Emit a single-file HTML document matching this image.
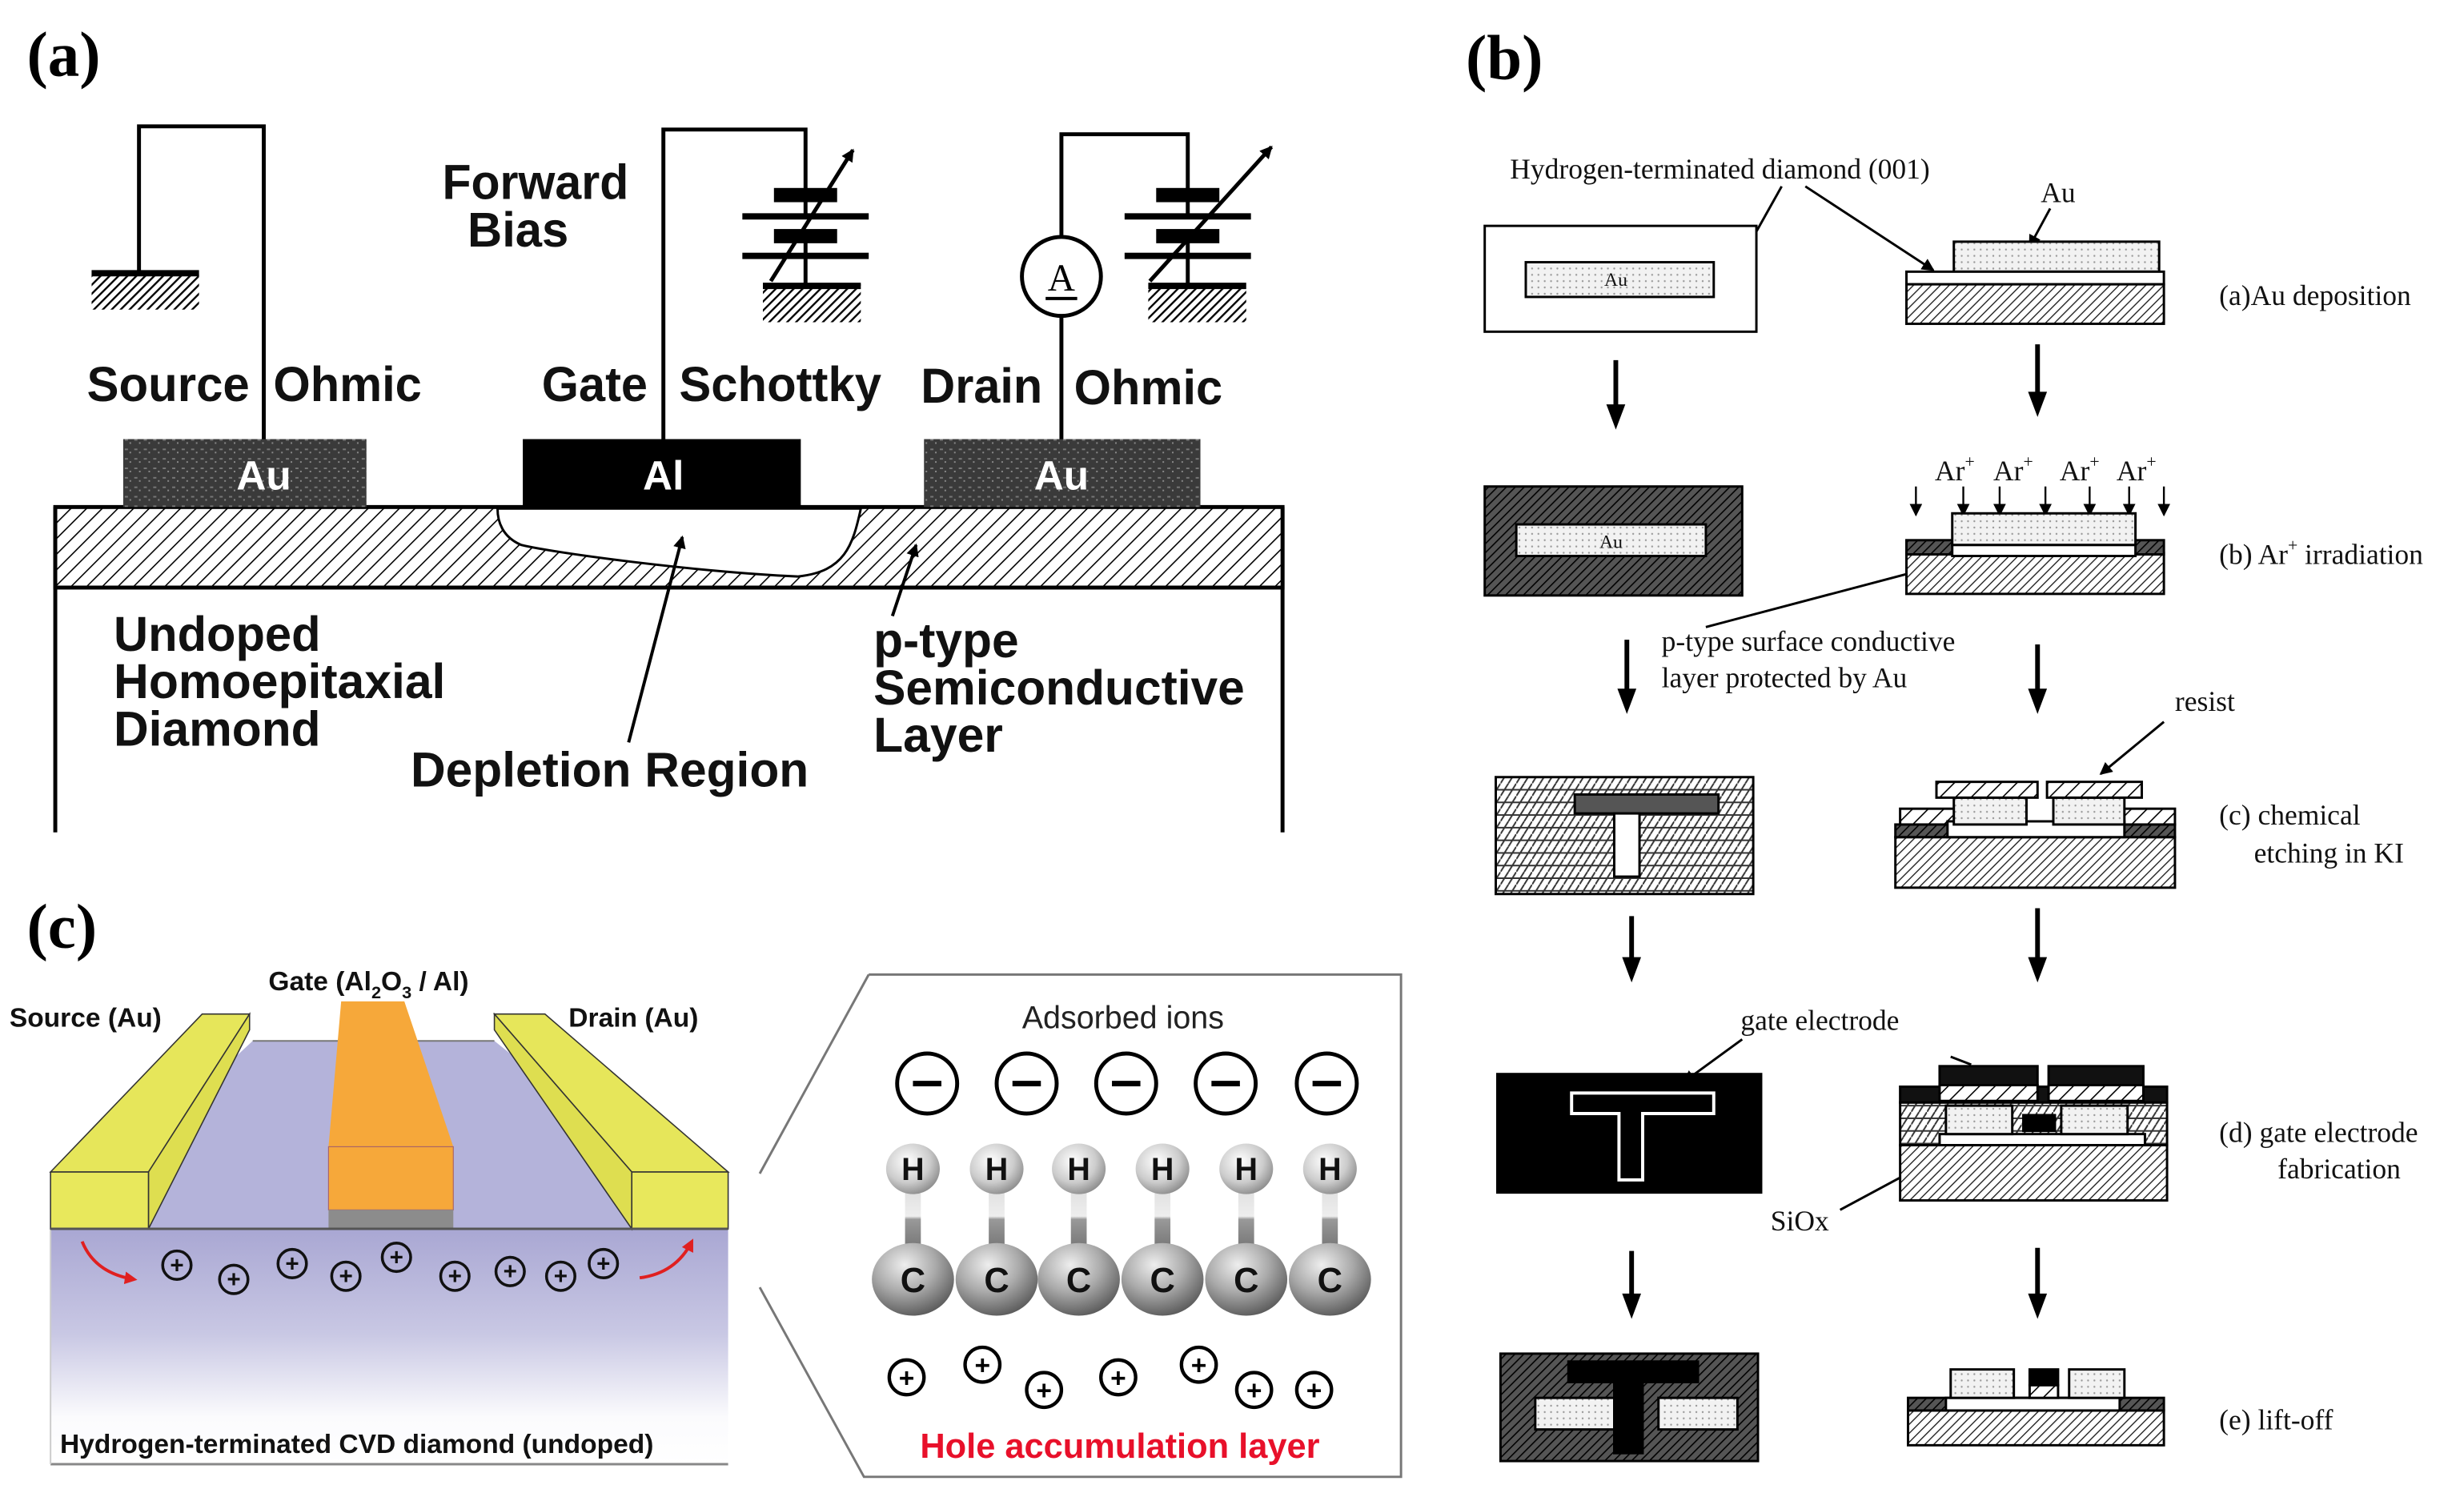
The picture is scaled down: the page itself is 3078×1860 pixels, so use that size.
<!DOCTYPE html>
<html><head><meta charset="utf-8"><style>
html,body{margin:0;padding:0;background:#fff;}
svg{display:block;}
.sa{font-family:"Liberation Sans",sans-serif;font-weight:bold;}
.se{font-family:"Liberation Serif",serif;}
</style></head><body>
<svg width="3078" height="1860" viewBox="0 0 1560 942.7" preserveAspectRatio="none" xmlns="http://www.w3.org/2000/svg">
<defs>
<pattern id="h" width="7" height="7" patternUnits="userSpaceOnUse" patternTransform="rotate(45)">
<rect width="7" height="7" fill="#fff"/><line x1="0" y1="0" x2="0" y2="7" stroke="#000" stroke-width="1.6"/></pattern>
<pattern id="hb" width="4" height="4" patternUnits="userSpaceOnUse" patternTransform="rotate(45)">
<rect width="4" height="4" fill="#fff"/><line x1="0" y1="0" x2="0" y2="4" stroke="#222" stroke-width="1.4"/></pattern>
<pattern id="hg2" width="4" height="4" patternUnits="userSpaceOnUse" patternTransform="rotate(45)">
<rect width="4" height="4" fill="#fff"/><line x1="0" y1="0" x2="0" y2="4" stroke="#000" stroke-width="2.4"/></pattern>
<pattern id="hd" width="4" height="4" patternUnits="userSpaceOnUse" patternTransform="rotate(45)">
<rect width="4" height="4" fill="#555"/><line x1="0" y1="0" x2="0" y2="4" stroke="#000" stroke-width="1.6"/></pattern>
<pattern id="dots" width="4" height="4" patternUnits="userSpaceOnUse">
<rect width="4" height="4" fill="#f2f2f2"/><circle cx="2" cy="2" r="0.6" fill="#999"/></pattern>
<pattern id="cross" width="10" height="8" patternUnits="userSpaceOnUse">
<rect width="10" height="8" fill="#fff"/><path d="M0,8 L5,0 M5,8 L10,0 M0,4 L10,4" stroke="#333" stroke-width="1"/></pattern>
<pattern id="tex" width="6" height="6" patternUnits="userSpaceOnUse">
<rect width="6" height="6" fill="#3a3a3a"/><rect x="1" y="2" width="2" height="1" fill="#777"/><rect x="4" y="4" width="1" height="1" fill="#888"/></pattern>
<linearGradient id="sub" x1="0" y1="0" x2="0" y2="1">
<stop offset="0" stop-color="#a9a7d3"/><stop offset="0.45" stop-color="#c9c8e4"/><stop offset="0.8" stop-color="#fbfbfd"/><stop offset="1" stop-color="#fff"/></linearGradient>
<radialGradient id="hgr" cx="0.4" cy="0.35" r="0.7"><stop offset="0" stop-color="#fff"/><stop offset="0.6" stop-color="#ccc"/><stop offset="1" stop-color="#888"/></radialGradient>
<radialGradient id="cg" cx="0.4" cy="0.3" r="0.75"><stop offset="0" stop-color="#eee"/><stop offset="0.5" stop-color="#aaa"/><stop offset="1" stop-color="#555"/></radialGradient>
<linearGradient id="bond" x1="0" y1="0" x2="0" y2="1"><stop offset="0" stop-color="#ddd"/><stop offset="0.5" stop-color="#eee"/><stop offset="0.55" stop-color="#999"/><stop offset="1" stop-color="#777"/></linearGradient>
<marker id="ar" markerWidth="8" markerHeight="8" refX="7" refY="4" orient="auto" markerUnits="userSpaceOnUse"><path d="M0,0 L8,4 L0,8 Z" fill="#000"/></marker>
<marker id="arr" markerWidth="8" markerHeight="8" refX="6" refY="4" orient="auto" markerUnits="userSpaceOnUse"><path d="M0,0 L8,4 L0,8 Z" fill="#e02020"/></marker>
</defs>

<!-- ===== (a) ===== -->
<text x="17" y="48" class="se" font-weight="bold" font-size="40">(a)</text>
<g stroke="#000" stroke-width="2.5" fill="none">
<path d="M167,278 V80 H88 V172"/>
<path d="M420,278 V82 H510 V120"/>
<path d="M510,128 V137 M510,153 V180"/>
<path d="M672,278 V200 M672,150 V85 H752 V120"/>
<path d="M752,128 V137 M752,153 V180"/>
<line x1="35" y1="527" x2="35" y2="321"/><line x1="812" y1="527" x2="812" y2="321"/>
</g>
<g>
<rect x="58" y="172" width="68" height="24" fill="url(#hg2)"/><line x1="58" y1="173" x2="126" y2="173" stroke="#000" stroke-width="4"/>
<rect x="483" y="180" width="62" height="24" fill="url(#hg2)"/><line x1="483" y1="181" x2="545" y2="181" stroke="#000" stroke-width="4"/>
<rect x="727" y="180" width="62" height="24" fill="url(#hg2)"/><line x1="727" y1="181" x2="789" y2="181" stroke="#000" stroke-width="4"/>
</g>
<g fill="#000">
<rect x="490" y="119" width="40" height="9"/><rect x="470" y="135" width="80" height="4"/><rect x="490" y="145" width="40" height="9"/><rect x="470" y="160" width="80" height="4"/>
<rect x="732" y="119" width="40" height="9"/><rect x="712" y="135" width="80" height="4"/><rect x="732" y="145" width="40" height="9"/><rect x="712" y="160" width="80" height="4"/>
</g>
<line x1="488" y1="178" x2="540" y2="95" stroke="#000" stroke-width="2.5" marker-end="url(#ar)"/>
<line x1="728" y1="178" x2="805" y2="93" stroke="#000" stroke-width="2.5" marker-end="url(#ar)"/>
<circle cx="672" cy="175" r="25" fill="#fff" stroke="#000" stroke-width="2.5"/>
<text x="672" y="184" class="se" font-size="24" text-anchor="middle">A</text>
<line x1="662" y1="189" x2="682" y2="189" stroke="#000" stroke-width="2"/>
<rect x="35" y="321" width="777" height="51" fill="url(#h)" stroke="#000" stroke-width="2.5"/>
<path d="M315,322 L545,322 C540,345 535,362 505,365 C440,362 350,350 330,345 C318,340 315,330 315,322 Z" fill="#fff" stroke="#000" stroke-width="1.5"/>
<rect x="78" y="278" width="154" height="43" fill="url(#tex)"/>
<rect x="331" y="278" width="176" height="43" fill="#000"/>
<rect x="585" y="278" width="175" height="43" fill="url(#tex)"/>
<g class="sa" font-size="26" fill="#fff" text-anchor="middle"><text x="167" y="310">Au</text><text x="420" y="310">Al</text><text x="672" y="310">Au</text></g>
<g class="sa" font-size="31" fill="#111" lengthAdjust="spacingAndGlyphs">
<text x="280" y="126" textLength="118" lengthAdjust="spacingAndGlyphs">Forward</text><text x="296" y="156" textLength="64" lengthAdjust="spacingAndGlyphs">Bias</text>
<text x="55" y="254" textLength="103" lengthAdjust="spacingAndGlyphs">Source</text><text x="173" y="254" textLength="94" lengthAdjust="spacingAndGlyphs">Ohmic</text>
<text x="343" y="254" textLength="67" lengthAdjust="spacingAndGlyphs">Gate</text><text x="430" y="254" textLength="128" lengthAdjust="spacingAndGlyphs">Schottky</text>
<text x="583" y="255" textLength="77" lengthAdjust="spacingAndGlyphs">Drain</text><text x="680" y="256" textLength="94" lengthAdjust="spacingAndGlyphs">Ohmic</text>
<text x="72" y="412" textLength="131" lengthAdjust="spacingAndGlyphs">Undoped</text><text x="72" y="442" textLength="210" lengthAdjust="spacingAndGlyphs">Homoepitaxial</text><text x="72" y="472" textLength="131" lengthAdjust="spacingAndGlyphs">Diamond</text>
<text x="260" y="498" textLength="252" lengthAdjust="spacingAndGlyphs">Depletion Region</text>
<text x="553" y="416" textLength="92" lengthAdjust="spacingAndGlyphs">p-type</text><text x="553" y="446" textLength="235" lengthAdjust="spacingAndGlyphs">Semiconductive</text><text x="553" y="476" textLength="82" lengthAdjust="spacingAndGlyphs">Layer</text>
</g>
<line x1="398" y1="470" x2="432" y2="340" stroke="#000" stroke-width="2" marker-end="url(#ar)"/>
<line x1="565" y1="390" x2="580" y2="345" stroke="#000" stroke-width="2" marker-end="url(#ar)"/>

<!-- ===== (c) ===== -->
<text x="17" y="600" class="se" font-weight="bold" font-size="40">(c)</text>
<rect x="32" y="778" width="429" height="149" fill="url(#sub)"/>
<line x1="32" y1="927" x2="461" y2="927" stroke="#888" stroke-width="1.5"/>
<line x1="32" y1="778" x2="32" y2="927" stroke="#ccc" stroke-width="1"/>
<polygon points="160,659 313,659 461,778 32,778" fill="#b4b3da"/>
<line x1="160" y1="659" x2="313" y2="659" stroke="#777" stroke-width="1"/>
<polygon points="32,742 128,642 158,642 94,742" fill="#e6e65a" stroke="#333" stroke-width="0.8"/>
<polygon points="94,742 158,642 158,652 94,778" fill="#dede50" stroke="#333" stroke-width="0.8"/>
<rect x="32" y="742" width="62" height="36" fill="#e8e85c" stroke="#333" stroke-width="0.8"/>
<polygon points="400,742 313,642 345,642 461,742" fill="#e6e65a" stroke="#333" stroke-width="0.8"/>
<polygon points="400,742 313,642 313,652 400,778" fill="#dede50" stroke="#333" stroke-width="0.8"/>
<rect x="400" y="742" width="61" height="36" fill="#e8e85c" stroke="#333" stroke-width="0.8"/>
<polygon points="208,726 216,634 256,634 287,726" fill="#f6a83a"/>
<rect x="208" y="726" width="79" height="40" fill="#f6a83a" stroke="#a66" stroke-width="0.6"/>
<rect x="208" y="766" width="79" height="12" fill="#8c8c8c"/>
<line x1="32" y1="778" x2="461" y2="778" stroke="#555" stroke-width="1.5"/>
<g class="sa" font-size="17" fill="#111">
<text x="170" y="627">Gate (Al<tspan font-size="11" dy="5">2</tspan><tspan dy="-5">O</tspan><tspan font-size="11" dy="5">3</tspan><tspan dy="-5"> / Al)</tspan></text>
<text x="6" y="650">Source (Au)</text><text x="360" y="650">Drain (Au)</text>
<text x="38" y="920" font-size="17">Hydrogen-terminated CVD diamond (undoped)</text>
</g>
<g fill="none" stroke="#111" stroke-width="1.8">
<circle cx="112" cy="801" r="9"/><circle cx="148" cy="810" r="9"/><circle cx="185" cy="800" r="9"/><circle cx="219" cy="808" r="9"/><circle cx="251" cy="796" r="9"/><circle cx="288" cy="808" r="9"/><circle cx="323" cy="805" r="9"/><circle cx="355" cy="808" r="9"/><circle cx="382" cy="800" r="9"/>
</g>
<g class="sa" font-size="15" fill="#111" text-anchor="middle">
<text x="112" y="806">+</text><text x="148" y="815">+</text><text x="185" y="805">+</text><text x="219" y="813">+</text><text x="251" y="801">+</text><text x="288" y="813">+</text><text x="323" y="810">+</text><text x="355" y="813">+</text><text x="382" y="805">+</text>
</g>
<path d="M52,786 Q60,806 85,810" fill="none" stroke="#e02020" stroke-width="2" marker-end="url(#arr)"/>
<path d="M405,809 Q428,806 438,786" fill="none" stroke="#e02020" stroke-width="2" marker-end="url(#arr)"/>
<polyline points="550,617 887,617 887,935 547,935 481,815" fill="none" stroke="#777" stroke-width="1.5"/>
<line x1="550" y1="617" x2="481" y2="743" stroke="#777" stroke-width="1.5"/>
<text x="711" y="651" text-anchor="middle" font-family="Liberation Sans,sans-serif" font-size="20" fill="#222">Adsorbed ions</text>
<g fill="#fff" stroke="#000" stroke-width="2.5">
<circle cx="587" cy="686" r="19"/><circle cx="650" cy="686" r="19"/><circle cx="713" cy="686" r="19"/><circle cx="776" cy="686" r="19"/><circle cx="840" cy="686" r="19"/>
</g>
<g stroke="#000" stroke-width="3.5"><line x1="578" y1="686" x2="596" y2="686"/><line x1="641" y1="686" x2="659" y2="686"/><line x1="704" y1="686" x2="722" y2="686"/><line x1="767" y1="686" x2="785" y2="686"/><line x1="831" y1="686" x2="849" y2="686"/></g>
<g fill="url(#bond)">
<rect x="573" y="750" width="10" height="40"/><rect x="626" y="750" width="10" height="40"/><rect x="678" y="750" width="10" height="40"/><rect x="731" y="750" width="10" height="40"/><rect x="784" y="750" width="10" height="40"/><rect x="837" y="750" width="10" height="40"/>
</g>
<g fill="url(#hgr)">
<ellipse cx="578" cy="740" rx="17" ry="16"/><ellipse cx="631" cy="740" rx="17" ry="16"/><ellipse cx="683" cy="740" rx="17" ry="16"/><ellipse cx="736" cy="740" rx="17" ry="16"/><ellipse cx="789" cy="740" rx="17" ry="16"/><ellipse cx="842" cy="740" rx="17" ry="16"/>
</g>
<g fill="url(#cg)">
<ellipse cx="578" cy="810" rx="26" ry="23"/><ellipse cx="631" cy="810" rx="26" ry="23"/><ellipse cx="683" cy="810" rx="26" ry="23"/><ellipse cx="736" cy="810" rx="26" ry="23"/><ellipse cx="789" cy="810" rx="26" ry="23"/><ellipse cx="842" cy="810" rx="26" ry="23"/>
</g>
<g class="sa" font-size="20" fill="#111" text-anchor="middle">
<text x="578" y="747">H</text><text x="631" y="747">H</text><text x="683" y="747">H</text><text x="736" y="747">H</text><text x="789" y="747">H</text><text x="842" y="747">H</text>
<text x="578" y="818" font-size="22">C</text><text x="631" y="818" font-size="22">C</text><text x="683" y="818" font-size="22">C</text><text x="736" y="818" font-size="22">C</text><text x="789" y="818" font-size="22">C</text><text x="842" y="818" font-size="22">C</text>
</g>
<g fill="#fff" stroke="#000" stroke-width="2.2">
<circle cx="574" cy="872" r="11"/><circle cx="622" cy="864" r="11"/><circle cx="661" cy="880" r="11"/><circle cx="708" cy="872" r="11"/><circle cx="759" cy="864" r="11"/><circle cx="794" cy="880" r="11"/><circle cx="832" cy="880" r="11"/>
</g>
<g class="sa" font-size="17" fill="#000" text-anchor="middle">
<text x="574" y="878">+</text><text x="622" y="870">+</text><text x="661" y="886">+</text><text x="708" y="878">+</text><text x="759" y="870">+</text><text x="794" y="886">+</text><text x="832" y="886">+</text>
</g>
<text x="709" y="923" text-anchor="middle" class="sa" font-size="22" fill="#e8102a">Hole accumulation layer</text>

<!-- ===== (b) ===== -->
<text x="928" y="50" class="se" font-weight="bold" font-size="40">(b)</text>
<g class="se" font-size="18" fill="#111">
<text x="956" y="113">Hydrogen-terminated diamond (001)</text>
<text x="1292" y="128">Au</text>
<text x="1405" y="193">(a)Au deposition</text>
<text x="1225" y="304">Ar<tspan font-size="11" dy="-8">+</tspan></text><text x="1262" y="304">Ar<tspan font-size="11" dy="-8">+</tspan></text><text x="1304" y="304">Ar<tspan font-size="11" dy="-8">+</tspan></text><text x="1340" y="304">Ar<tspan font-size="11" dy="-8">+</tspan></text>
<text x="1405" y="357">(b) Ar<tspan font-size="11" dy="-8">+</tspan><tspan dy="8"> irradiation</tspan></text>
<text x="1052" y="412">p-type surface conductive</text><text x="1052" y="435">layer protected by Au</text>
<text x="1377" y="450">resist</text>
<text x="1405" y="522">(c) chemical</text><text x="1427" y="546">etching in KI</text>
<text x="1102" y="652">gate electrode</text>
<text x="1405" y="723">(d) gate electrode</text><text x="1442" y="746">fabrication</text>
<text x="1121" y="779">SiOx</text>
<text x="1405" y="905">(e) lift-off</text>
</g>
<g stroke="#000" stroke-width="1.5" fill="none">
<line x1="1128" y1="118" x2="1100" y2="168" marker-end="url(#ar)"/>
<line x1="1143" y1="118" x2="1224" y2="171" marker-end="url(#ar)"/>
<line x1="1298" y1="132" x2="1285" y2="156" marker-end="url(#ar)"/>
<line x1="1080" y1="397" x2="1258" y2="350" marker-end="url(#ar)"/>
<line x1="1370" y1="457" x2="1330" y2="490" marker-end="url(#ar)"/>
<line x1="1103" y1="658" x2="1066" y2="685" marker-end="url(#ar)"/>
<line x1="1165" y1="766" x2="1258" y2="716" marker-end="url(#ar)"/>
<line x1="1248" y1="674" x2="1235" y2="669"/>
</g>
<g stroke="#000" stroke-width="3">
<line x1="1023" y1="228" x2="1023" y2="258"/><line x1="1290" y1="218" x2="1290" y2="250"/>
<line x1="1030" y1="405" x2="1030" y2="438"/><line x1="1290" y1="408" x2="1290" y2="438"/>
<line x1="1033" y1="580" x2="1033" y2="608"/><line x1="1290" y1="575" x2="1290" y2="608"/>
<line x1="1033" y1="792" x2="1033" y2="821"/><line x1="1290" y1="790" x2="1290" y2="821"/>
</g>
<g fill="#000">
<polygon points="1017,256 1029,256 1023,272"/><polygon points="1284,248 1296,248 1290,264"/>
<polygon points="1024,436 1036,436 1030,452"/><polygon points="1284,436 1296,436 1290,452"/>
<polygon points="1027,606 1039,606 1033,622"/><polygon points="1284,606 1296,606 1290,622"/>
<polygon points="1027,819 1039,819 1033,835"/><polygon points="1284,819 1296,819 1290,835"/>
</g>
<g stroke="#000" stroke-width="1.2">
<line x1="1213" y1="308" x2="1213" y2="326" marker-end="url(#ar)"/><line x1="1243" y1="308" x2="1243" y2="326" marker-end="url(#ar)"/><line x1="1266" y1="308" x2="1266" y2="326" marker-end="url(#ar)"/><line x1="1295" y1="308" x2="1295" y2="326" marker-end="url(#ar)"/><line x1="1323" y1="308" x2="1323" y2="326" marker-end="url(#ar)"/><line x1="1348" y1="308" x2="1348" y2="326" marker-end="url(#ar)"/><line x1="1370" y1="308" x2="1370" y2="326" marker-end="url(#ar)"/>
</g>
<g stroke="#000" stroke-width="1.5">
<rect x="940" y="143" width="172" height="67" fill="#fff"/>
<rect x="966" y="166" width="119" height="22" fill="url(#dots)"/>
<rect x="1237" y="153" width="130" height="19" fill="url(#dots)"/>
<rect x="1207" y="172" width="163" height="8" fill="#fff"/>
<rect x="1207" y="180" width="163" height="25" fill="url(#hb)"/>
<rect x="940" y="308" width="163" height="69" fill="url(#hd)"/>
<rect x="960" y="332" width="120" height="20" fill="url(#dots)"/>
<rect x="1207" y="350" width="163" height="26" fill="url(#hb)"/>
<rect x="1207" y="342" width="163" height="9" fill="url(#hd)"/>
<rect x="1236" y="345" width="116" height="7" fill="#fff"/>
<rect x="1236" y="325" width="116" height="20" fill="url(#dots)"/>
<rect x="947" y="492" width="163" height="74" fill="url(#cross)"/>
<rect x="997" y="503" width="91" height="12" fill="#555"/>
<rect x="1022" y="515" width="16" height="40" fill="#fff"/>
<rect x="1200" y="530" width="177" height="32" fill="url(#hb)"/>
<rect x="1200" y="522" width="177" height="8" fill="url(#hd)"/>
<rect x="1203" y="512" width="37" height="10" fill="url(#h)"/>
<rect x="1340" y="512" width="37" height="10" fill="url(#h)"/>
<rect x="1233" y="520" width="112" height="10" fill="#fff"/>
<rect x="1237" y="505" width="46" height="17" fill="url(#dots)"/>
<rect x="1300" y="505" width="45" height="17" fill="url(#dots)"/>
<rect x="1226" y="495" width="64" height="10" fill="url(#h)"/>
<rect x="1296" y="495" width="60" height="10" fill="url(#h)"/>
<rect x="948" y="680" width="167" height="75" fill="#000"/>
<path d="M995,692 H1085 V705 H1040 V747 H1025 V705 H995 Z" fill="none" stroke="#fff" stroke-width="2"/>
<rect x="1203" y="725" width="169" height="35" fill="url(#hb)"/>
<rect x="1203" y="698" width="169" height="27" fill="url(#cross)"/>
<rect x="1203" y="688" width="169" height="10" fill="#111"/>
<rect x="1228" y="675" width="62" height="12" fill="#111"/>
<rect x="1297" y="675" width="60" height="12" fill="#111"/>
<rect x="1228" y="687" width="62" height="10" fill="url(#h)"/>
<rect x="1297" y="687" width="60" height="10" fill="url(#h)"/>
<rect x="1228" y="718" width="130" height="7" fill="#fff"/>
<rect x="1232" y="700" width="42" height="18" fill="url(#dots)"/>
<rect x="1305" y="700" width="42" height="18" fill="url(#dots)"/>
<rect x="1281" y="706" width="20" height="10" fill="#000"/>
<rect x="950" y="857" width="163" height="68" fill="url(#hd)"/>
<rect x="972" y="885" width="58" height="20" fill="url(#dots)"/>
<rect x="1050" y="885" width="50" height="20" fill="url(#dots)"/>
<rect x="993" y="862" width="82" height="13" fill="#000"/>
<rect x="1022" y="875" width="18" height="45" fill="#000"/>
<rect x="1208" y="893" width="162" height="22" fill="url(#hb)"/>
<rect x="1208" y="885" width="162" height="8" fill="url(#hd)"/>
<rect x="1232" y="885" width="110" height="8" fill="#fff"/>
<rect x="1235" y="867" width="40" height="18" fill="url(#dots)"/>
<rect x="1310" y="867" width="35" height="18" fill="url(#dots)"/>
<rect x="1285" y="867" width="18" height="10" fill="#000"/>
<rect x="1285" y="877" width="18" height="8" fill="url(#h)"/>
</g>
<g class="se" font-size="12" fill="#111" text-anchor="middle"><text x="1023" y="181">Au</text><text x="1020" y="347">Au</text></g>
</svg>
</body></html>
